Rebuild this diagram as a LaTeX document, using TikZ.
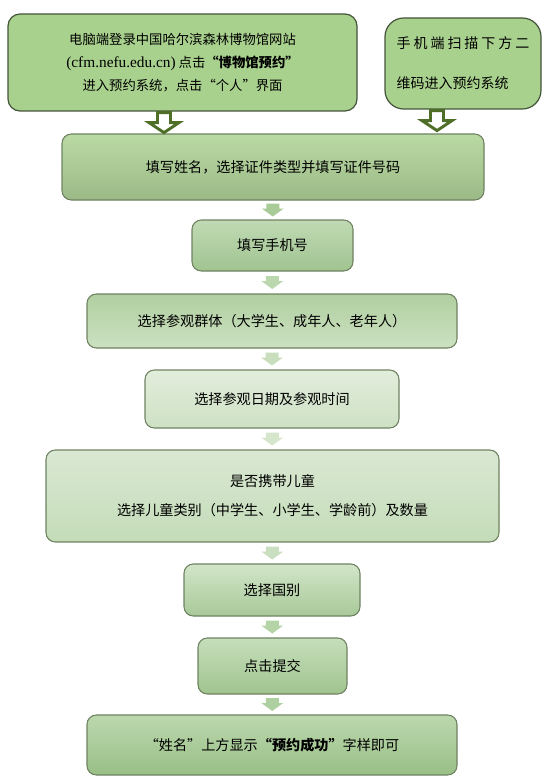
\documentclass[tikz,border=0pt]{standalone}
\usepackage{fontspec}
\setmainfont{Noto Sans CJK SC}
\newfontfamily\latserif{Liberation Serif}
\usetikzlibrary{calc}
\definecolor{topfill}{HTML}{A9D18E}
\definecolor{topline}{HTML}{44543A}
\definecolor{hollow}{HTML}{4F6F28}
\definecolor{boxline}{HTML}{6F8262}
\tikzset{
  x=0.75pt, y=-0.75pt,
  topbox/.style={draw=topline, line width=0.9pt, fill=topfill, rounded corners=9pt, inner sep=0pt, font=\fontsize{10}{17.25}\selectfont},
  gbox/.style={draw=boxline, line width=0.8pt, rounded corners=7pt, inner sep=0pt, align=center, font=\fontsize{10.6}{21.75}\selectfont},
  hollowarrow/.pic={\draw[hollow, line width=2.2pt, fill=white, line join=miter]
     (-6.5,0) -- (6.5,0) -- (6.5,10) -- (15,10) -- (0,20) -- (-15,10) -- (-6.5,10) -- cycle;},
  flowarrow/.pic={\fill[pic actions] (-6.5,-6.5) -- (6.5,-6.5) -- (6.5,-1.5) -- (11,-1.5) -- (0,6.5) -- (-11,-1.5) -- (-6.5,-1.5) -- cycle;}
}
\begin{document}
\begin{tikzpicture}
\useasboundingbox (0,0) rectangle (549,781);
\node[topbox, minimum width=349*0.75pt, minimum height=97*0.75pt, align=center] (b1) at (182.5,62.5)
  {电脑端登录中国哈尔滨森林博物馆网站\\{\latserif\fontsize{11.5}{12}\selectfont (cfm.nefu.edu.cn)}\ 点击\textbf{“博物馆预约”}\\进入预约系统，点击“个人”界面};
\node[topbox, rounded corners=14pt, minimum width=156*0.75pt, minimum height=91*0.75pt, align=left, font=\fontsize{10.5}{30}\selectfont] (b2) at (463,63.5)
  {\addfontfeature{LetterSpace=21}手机端扫描下方二\\维码进入预约系统\hspace{22pt}};
\node[gbox, top color=topfill!80!white, bottom color=topfill!85!black!90!white, minimum width=422*0.75pt, minimum height=66*0.75pt] (b3) at (273,167)
  {填写姓名，选择证件类型并填写证件号码};
\node[gbox, top color={rgb,255:red,192;green,218;blue,180}, bottom color={rgb,255:red,160;green,196;blue,144}, minimum width=161*0.75pt, minimum height=51*0.75pt] (b4) at (272.5,245.5)
  {填写手机号};
\node[gbox, top color={rgb,255:red,176;green,207;blue,160}, bottom color={rgb,255:red,204;green,225;blue,193}, minimum width=370*0.75pt, minimum height=54*0.75pt] (b5) at (272,321)
  {选择参观群体（大学生、成年人、老年人）};
\node[gbox, top color={rgb,255:red,226;green,237;blue,220}, bottom color={rgb,255:red,206;green,225;blue,196}, minimum width=254*0.75pt, minimum height=58*0.75pt] (b6) at (272,399)
  {选择参观日期及参观时间};
\node[gbox, top color={rgb,255:red,218;green,232;blue,211}, bottom color={rgb,255:red,196;green,220;blue,184}, minimum width=453*0.75pt, minimum height=92*0.75pt] (b7) at (272.5,496)
  {是否携带儿童\\选择儿童类别（中学生、小学生、学龄前）及数量};
\node[gbox, top color={rgb,255:red,210;green,229;blue,201}, bottom color={rgb,255:red,168;green,201;blue,152}, minimum width=176*0.75pt, minimum height=52*0.75pt] (b8) at (272,590)
  {选择国别};
\node[gbox, top color={rgb,255:red,198;green,222;blue,187}, bottom color={rgb,255:red,160;green,196;blue,143}, minimum width=149*0.75pt, minimum height=56*0.75pt] (b9) at (272.5,666)
  {点击提交};
\node[gbox, top color={rgb,255:red,188;green,216;blue,174}, bottom color={rgb,255:red,152;green,191;blue,134}, minimum width=370*0.75pt, minimum height=60*0.75pt] (b10) at (272,745)
  {“姓名”上方显示\textbf{“预约成功”}字样即可};
% hollow arrows
\pic at ($(b1.south -| 164,0)+(0,1)$) {hollowarrow};
\pic at ($(b2.south -| 437,0)+(0,1)$) {hollowarrow};
% flow arrows
\pic[fill={rgb,255:red,168;green,203;blue,151}] at ($(b3.south)!0.5!(b4.north)$) {flowarrow};
\pic[fill={rgb,255:red,187;green,215;blue,173}] at ($(b4.south)!0.5!(b5.north)$) {flowarrow};
\pic[fill={rgb,255:red,200;green,222;blue,189}] at ($(b5.south)!0.5!(b6.north)$) {flowarrow};
\pic[fill={rgb,255:red,213;green,230;blue,205}] at ($(b6.south)!0.5!(b7.north)$) {flowarrow};
\pic[fill={rgb,255:red,201;green,223;blue,191}] at ($(b7.south)!0.5!(b8.north)$) {flowarrow};
\pic[fill={rgb,255:red,181;green,212;blue,166}] at ($(b8.south)!0.5!(b9.north)$) {flowarrow};
\pic[fill={rgb,255:red,174;green,208;blue,160}] at ($(b9.south)!0.5!(b10.north)$) {flowarrow};
\end{tikzpicture}
\end{document}
